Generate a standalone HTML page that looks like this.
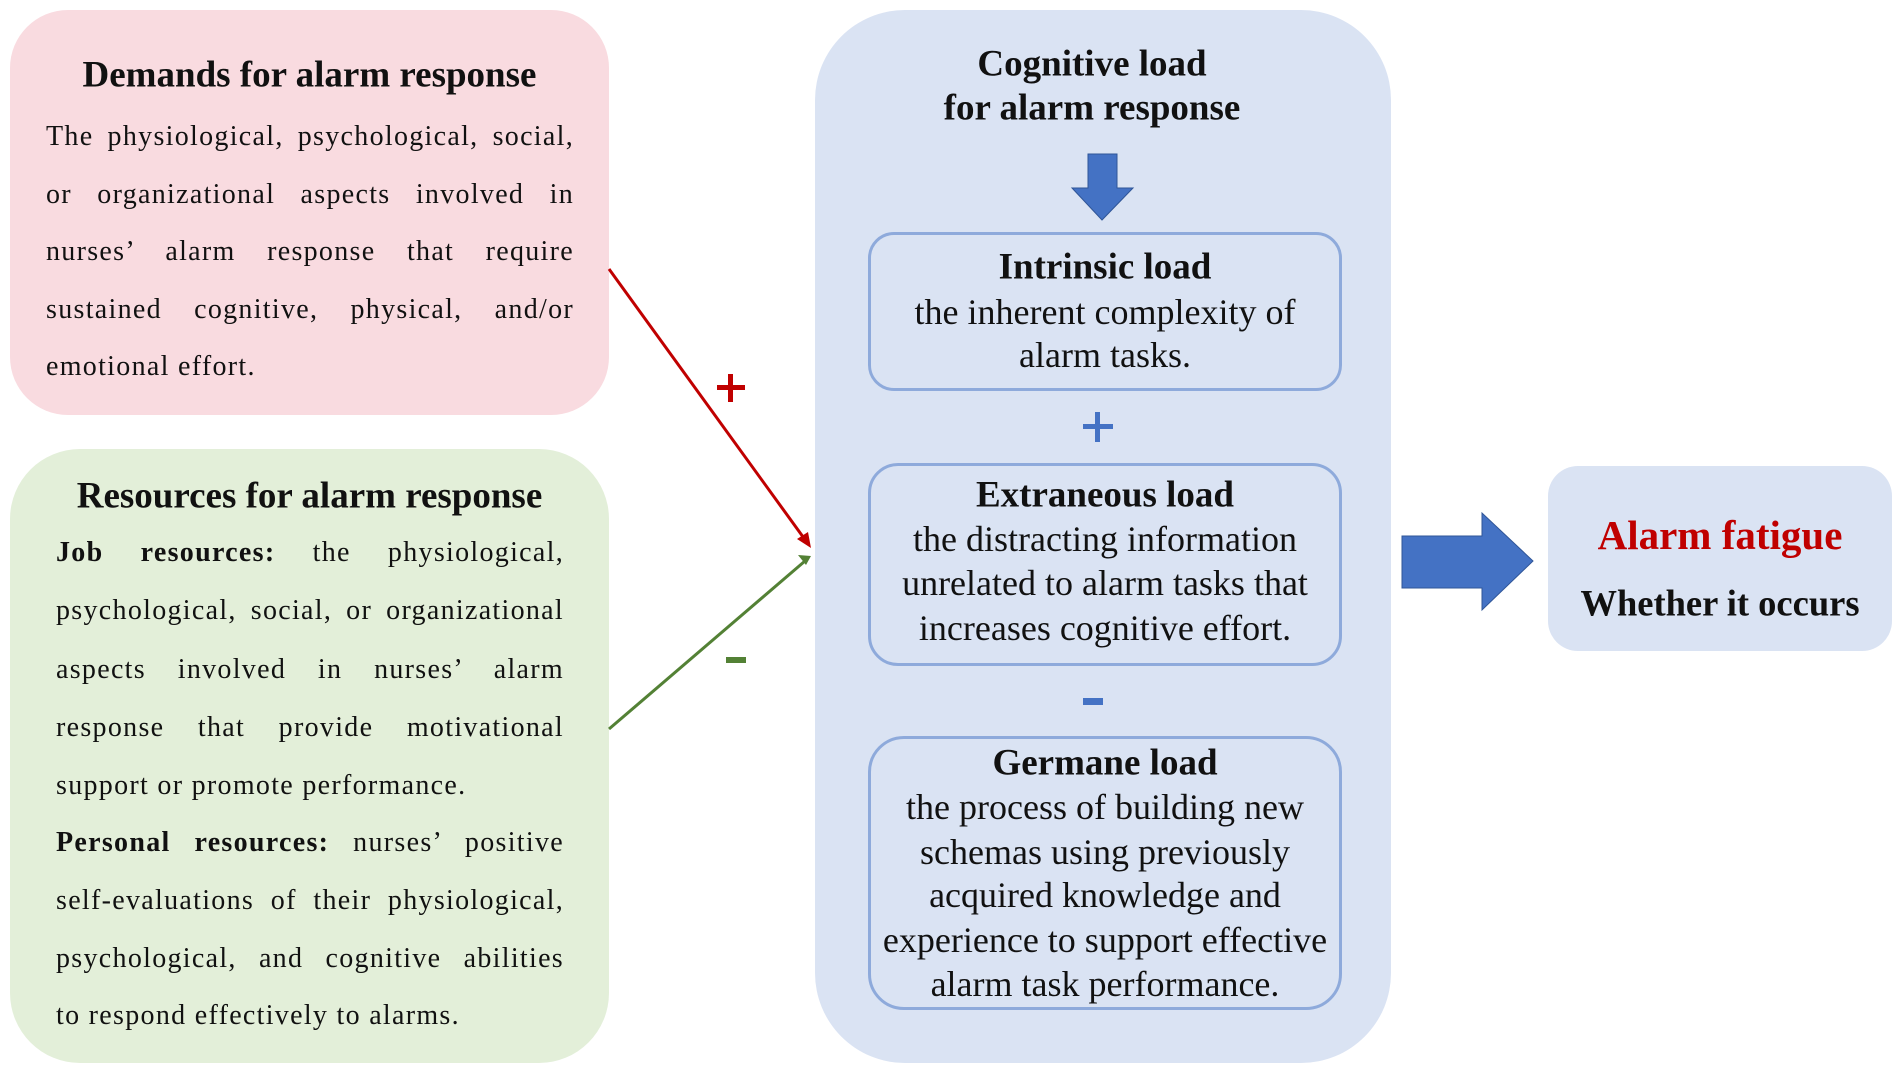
<!DOCTYPE html>
<html><head><meta charset="utf-8"><style>
body{margin:0;width:1902px;height:1072px;background:#fff;position:relative;overflow:hidden;font-family:"Liberation Serif",serif;color:#111}
.box{position:absolute;box-sizing:border-box}
.t{position:absolute;white-space:nowrap;transform:translateY(-50%)}
.c{text-align:center}
.j{text-align:justify;text-align-last:justify}
</style></head><body>
<div class="box" style="left:10px;top:10px;width:599px;height:405px;background:#f9dbe0;border-radius:58px"></div>
<div class="box" style="left:10px;top:449px;width:599px;height:614px;background:#e3efd9;border-radius:70px"></div>
<div class="box" style="left:815px;top:10px;width:576px;height:1053px;background:#dae3f3;border-radius:90px"></div>
<div class="box" style="left:868px;top:232px;width:474px;height:159px;border:3px solid #8eaadb;border-radius:26px"></div>
<div class="box" style="left:868px;top:463px;width:474px;height:203px;border:3px solid #8eaadb;border-radius:30px"></div>
<div class="box" style="left:868px;top:736px;width:474px;height:274px;border:3px solid #8eaadb;border-radius:36px"></div>
<div class="box" style="left:1548px;top:466px;width:344px;height:185px;background:#dae3f3;border-radius:30px"></div>

<svg width="1902" height="1072" style="position:absolute;left:0;top:0">
<polygon points="1088,154 1117,154 1117,188 1133,188 1102,220 1072,188 1088,188" fill="#4472c4" stroke="#2f5597" stroke-width="1"/>
<polygon points="1402,536 1482,536 1482,513 1533,561 1482,610 1482,588 1402,588" fill="#4472c4" stroke="#2f5597" stroke-width="1"/>
<line x1="609" y1="269" x2="806" y2="541" stroke="#c00000" stroke-width="3"/>
<polygon points="811,548 797,539 808,532" fill="#c00000"/>
<line x1="609" y1="729" x2="805" y2="561" stroke="#538135" stroke-width="3"/>
<polygon points="811,556 798,555 806,565" fill="#538135"/>
<rect x="717" y="385" width="28" height="5" fill="#c00000"/><rect x="728" y="374" width="5" height="28" fill="#c00000"/>
<rect x="726" y="657" width="20" height="6" fill="#538135"/>
<rect x="1083" y="424" width="30" height="5" fill="#4472c4"/><rect x="1095" y="412" width="5" height="30" fill="#4472c4"/>
<rect x="1083" y="698" width="20" height="7" fill="#4472c4"/>
</svg>

<div class="t c" style="left:10px;width:599px;top:75px;font-weight:bold;font-size:37px">Demands for alarm response</div>
<div style="position:absolute;left:46px;width:528px;top:0;font-size:28px;letter-spacing:1.3px">
<div class="t j" style="width:528px;top:137px">The physiological, psychological, social,</div>
<div class="t j" style="width:528px;top:195px">or organizational aspects involved in</div>
<div class="t j" style="width:528px;top:252px">nurses’ alarm response that require</div>
<div class="t j" style="width:528px;top:310px">sustained cognitive, physical, and/or</div>
<div class="t" style="top:367px">emotional effort.</div>
</div>

<div class="t c" style="left:10px;width:599px;top:496px;font-weight:bold;font-size:37px">Resources for alarm response</div>
<div style="position:absolute;left:56px;width:508px;top:0;font-size:28px;letter-spacing:1.3px">
<div class="t j" style="width:508px;top:553px"><b>Job resources:</b> the physiological,</div>
<div class="t j" style="width:508px;top:611px">psychological, social, or organizational</div>
<div class="t j" style="width:508px;top:670px">aspects involved in nurses’ alarm</div>
<div class="t j" style="width:508px;top:728px">response that provide motivational</div>
<div class="t" style="top:786px">support or promote performance.</div>
<div class="t j" style="width:508px;top:843px"><b>Personal resources:</b> nurses’ positive</div>
<div class="t j" style="width:508px;top:901px">self-evaluations of their physiological,</div>
<div class="t j" style="width:508px;top:959px">psychological, and cognitive abilities</div>
<div class="t" style="top:1016px">to respond effectively to alarms.</div>
</div>

<div style="position:absolute;left:868px;width:474px;top:0;font-size:36px">
<div class="t c" style="width:474px;left:-13px;top:64px;font-weight:bold;font-size:37px">Cognitive load</div>
<div class="t c" style="width:474px;left:-13px;top:108px;font-weight:bold;font-size:37px">for alarm response</div>
<div class="t c" style="width:474px;top:267px;font-weight:bold;font-size:37px">Intrinsic load</div>
<div class="t c" style="width:474px;top:312px">the inherent complexity of</div>
<div class="t c" style="width:474px;top:355px">alarm tasks.</div>
<div class="t c" style="width:474px;top:495px;font-weight:bold;font-size:37px">Extraneous load</div>
<div class="t c" style="width:474px;top:539px">the distracting information</div>
<div class="t c" style="width:474px;top:583px">unrelated to alarm tasks that</div>
<div class="t c" style="width:474px;top:628px">increases cognitive effort.</div>
<div class="t c" style="width:474px;top:763px;font-weight:bold;font-size:37px">Germane load</div>
<div class="t c" style="width:474px;top:807px">the process of building new</div>
<div class="t c" style="width:474px;top:852px">schemas using previously</div>
<div class="t c" style="width:474px;top:895px">acquired knowledge and</div>
<div class="t c" style="width:474px;top:940px">experience to support effective</div>
<div class="t c" style="width:474px;top:984px">alarm task performance.</div>
</div>

<div class="t c" style="left:1548px;width:344px;top:535px;font-weight:bold;font-size:41px;color:#c00000">Alarm fatigue</div>
<div class="t c" style="left:1548px;width:344px;top:603px;font-weight:bold;font-size:36.5px">Whether it occurs</div>
</body></html>
